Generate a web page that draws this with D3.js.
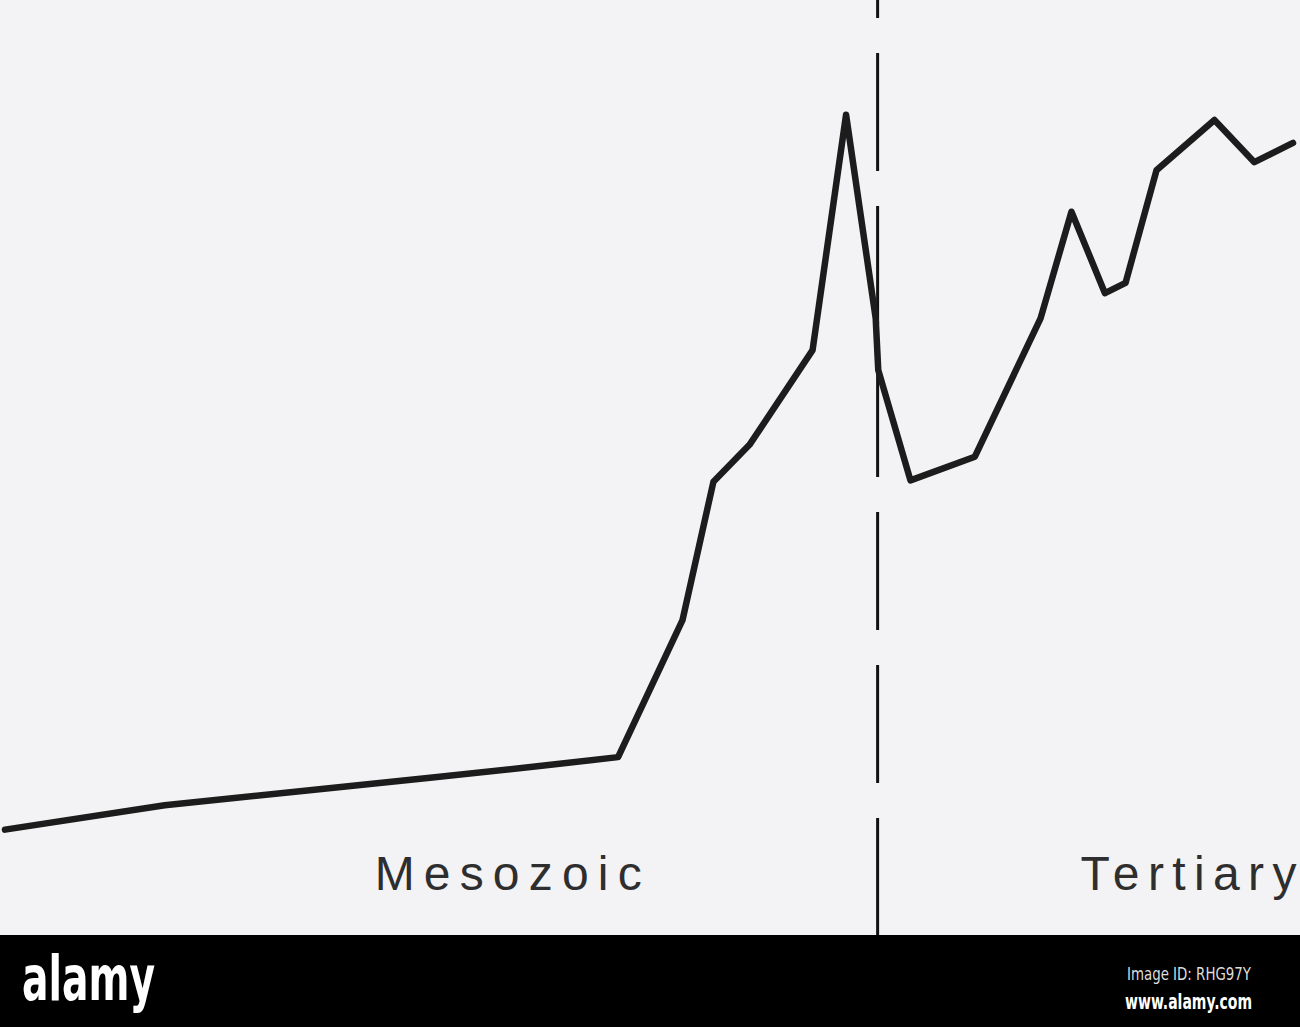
<!DOCTYPE html>
<meta charset="utf-8">
<style>
body { margin: 0; background: #f3f2f4; }
.line { fill: none; stroke: #1c1c1c; stroke-width: 6.5px; stroke-linejoin: round; stroke-linecap: round; }
.boundary { stroke: #111; stroke-width: 3px; stroke-dasharray: 118 35; }
.era { font-family: "Liberation Sans", Arial, sans-serif; font-size: 48px; fill: #2e2e2e; }
</style>
<body>
<script src="https://d3js.org/d3.v7.min.js"></script>
<script>

// relative time (0 = left end, 100 = right end) and relative value
var times  = [0, 12.4, 22.9, 33.0, 41.5, 47.6, 52.6, 55.0, 57.8, 62.7, 65.3, 67.6, 67.8, 70.3, 75.3, 80.4, 82.8, 85.4, 87.0, 89.4, 93.9, 97.0, 100];
var values = [1.4, 4.7, 6.6, 8.4, 10.0, 11.2, 29.7, 48.4, 53.4, 66.2, 98.0, 70.5, 63.5, 48.6, 51.8, 70.5, 84.9, 73.9, 75.3, 90.5, 97.3, 91.6, 94.2];
var boundaryTime = 67.75;
var eras = ["Mesozoic", "Tertiary"];
var eraStart = [28.7, 83.5];
var eraWidth = [267, 216];

var W = 1300, H = 1027, footer = 92;

var svg = d3.select("body").append("svg")
    .attr("width", W)
    .attr("height", H);

svg.append("rect")
    .attr("width", W)
    .attr("height", H)
    .attr("fill", "#f3f2f4");

var x = d3.scaleLinear().domain([0, 100]).range([5, 1293]);
var y = d3.scaleLinear().domain([0, 100]).range([840, 100]);

var data = times.map(function(t, i) { return {t: t, v: values[i]}; });

var valueline = d3.line()
    .x(function(d) { return x(d.t); })
    .y(function(d) { return y(d.v); });

// dashed era boundary
svg.append("line")
    .attr("class", "boundary")
    .attr("x1", x(boundaryTime))
    .attr("x2", x(boundaryTime))
    .attr("y1", 0)
    .attr("y2", H - footer)
    .attr("stroke-dashoffset", 100);

svg.append("path")
    .data([data])
    .attr("class", "line")
    .attr("d", valueline);

svg.selectAll(".era")
    .data(eras)
  .enter().append("text")
    .attr("class", "era")
    .attr("x", function(d, i) { return x(eraStart[i]); })
    .attr("y", 890)
    .attr("textLength", function(d, i) { return eraWidth[i]; })
    .attr("lengthAdjust", "spacing")
    .text(function(d) { return d; });

// footer band
svg.append("rect")
    .attr("y", H - footer)
    .attr("width", W)
    .attr("height", footer)
    .attr("fill", "#000");

svg.append("text")
    .attr("x", 22)
    .attr("y", 1000)
    .style("font", "bold 62px 'DejaVu Sans Condensed', sans-serif")
    .attr("textLength", 133)
    .attr("lengthAdjust", "spacingAndGlyphs")
    .attr("fill", "#fff")
    .text("alamy");

svg.append("text")
    .attr("x", 1127)
    .attr("y", 980)
    .style("font", "17px 'DejaVu Sans Condensed', sans-serif")
    .attr("textLength", 124)
    .attr("lengthAdjust", "spacingAndGlyphs")
    .attr("fill", "#ddd")
    .text("Image ID: RHG97Y");

svg.append("text")
    .attr("x", 1125)
    .attr("y", 1009)
    .style("font", "bold 21px 'DejaVu Sans Condensed', sans-serif")
    .attr("textLength", 127)
    .attr("lengthAdjust", "spacingAndGlyphs")
    .attr("fill", "#fff")
    .text("www.alamy.com");

</script>
</body>
